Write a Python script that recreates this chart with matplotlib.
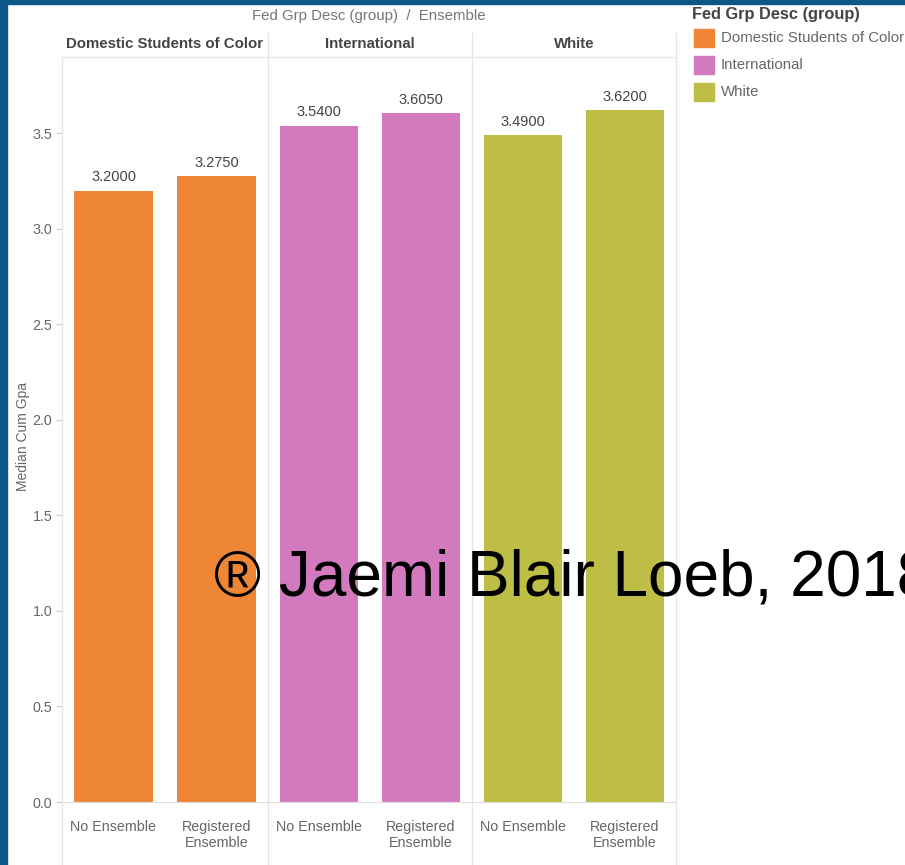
import matplotlib
matplotlib.use("Agg")
import matplotlib.pyplot as plt
from matplotlib.patches import Rectangle
from matplotlib.lines import Line2D

plt.rcParams['font.family'] = ['Liberation Sans', 'DejaVu Sans']

groups = ["Domestic Students of Color", "International", "White"]
ensembles = ["No Ensemble", "Registered\nEnsemble"]
values = {
    "Domestic Students of Color": [3.2000, 3.2750],
    "International": [3.5400, 3.6050],
    "White": [3.4900, 3.6200],
}
colors = ["#EF8636", "#D37ABF", "#BEBD45"]
yticks = [0.0, 0.5, 1.0, 1.5, 2.0, 2.5, 3.0, 3.5]

W, H = 905, 865
fig = plt.figure(figsize=(W / 100, H / 100), dpi=100)
fig.patch.set_facecolor("white")

def fx(px):
    return px / W

def fy(py):
    return 1 - py / H

panel_left = [62, 268, 472]
panel_w = [206, 204, 204]
y_top, y_bot = 57, 802
grid_c = "#E6E6E6"
txt_c = "#666666"

axes = []
for i, g in enumerate(groups):
    ax = fig.add_axes([fx(panel_left[i]), fy(y_bot), fx(panel_w[i]), (y_bot - y_top) / H])
    ax.set_facecolor("none")
    vals = values[g]
    ax.bar(range(len(ensembles)), vals, width=0.76, color=colors[i])
    for x, v in enumerate(vals):
        ax.text(x, v + 0.035, f"{v:.4f}", ha="center", va="bottom", fontsize=10.5, color="#444444")
    ax.set_xlim(-0.5, 1.5)
    ax.set_ylim(0, 3.9)
    ax.set_xticks(range(len(ensembles)))
    ax.set_xticklabels(ensembles, fontsize=10.3, color=txt_c, linespacing=1.2)
    ax.tick_params(axis="x", length=0, pad=13)
    for s in ["top", "right", "left"]:
        ax.spines[s].set_visible(False)
    ax.spines["bottom"].set_color("#DDDDDD")
    if i == 0:
        ax.set_yticks(yticks)
        ax.set_yticklabels([f"{t:.1f}" for t in yticks], fontsize=10.3, color=txt_c)
        ax.tick_params(axis="y", length=4, color="#CCCCCC", pad=3)
        ax.set_ylabel("Median Cum Gpa", fontsize=10, color=txt_c)
        ax.yaxis.set_label_coords((30 - 62) / panel_w[0], 0.49)
    else:
        ax.set_yticks([])
    axes.append(ax)
    # header
    fig.text(fx(panel_left[i] + panel_w[i] / 2), fy(44), g, ha="center", va="center",
             fontsize=10.8, fontweight="bold", color="#444444")

# dividers
for xp in [62, 268, 472, 676]:
    top = 33 if xp != 62 else 57
    fig.add_artist(Line2D([fx(xp), fx(xp)], [fy(top), fy(865)], color=grid_c, lw=1))
fig.add_artist(Line2D([fx(62), fx(676)], [fy(57), fy(57)], color=grid_c, lw=1))

fig.text(fx(369), fy(16), "Fed Grp Desc (group)  /  Ensemble", ha="center", va="center",
         fontsize=10.8, color="#777777")

# legend
fig.text(fx(692), fy(15), "Fed Grp Desc (group)", ha="left", va="center",
         fontsize=11.8, fontweight="bold", color="#444444")
for k, g in enumerate(groups):
    cy = 38 + 27 * k
    fig.add_artist(Rectangle((fx(694), fy(cy + 9)), fx(20), 18 / H, color=colors[k],
                             transform=fig.transFigure))
    fig.text(fx(721), fy(cy), g, ha="left", va="center", fontsize=10.8, color="#666666")

# frame
fig.add_artist(Rectangle((0, 0), fx(7), 1, color="#0B5788", transform=fig.transFigure))
fig.add_artist(Rectangle((0, fy(4)), 1, 4 / H, color="#0B5788", transform=fig.transFigure))

# watermark
fig.text(fx(214), fy(596), "® Jaemi Blair Loeb, 2018", ha="left", va="baseline",
         fontsize=46, color="black")

fig.savefig("out.png", dpi=100)
